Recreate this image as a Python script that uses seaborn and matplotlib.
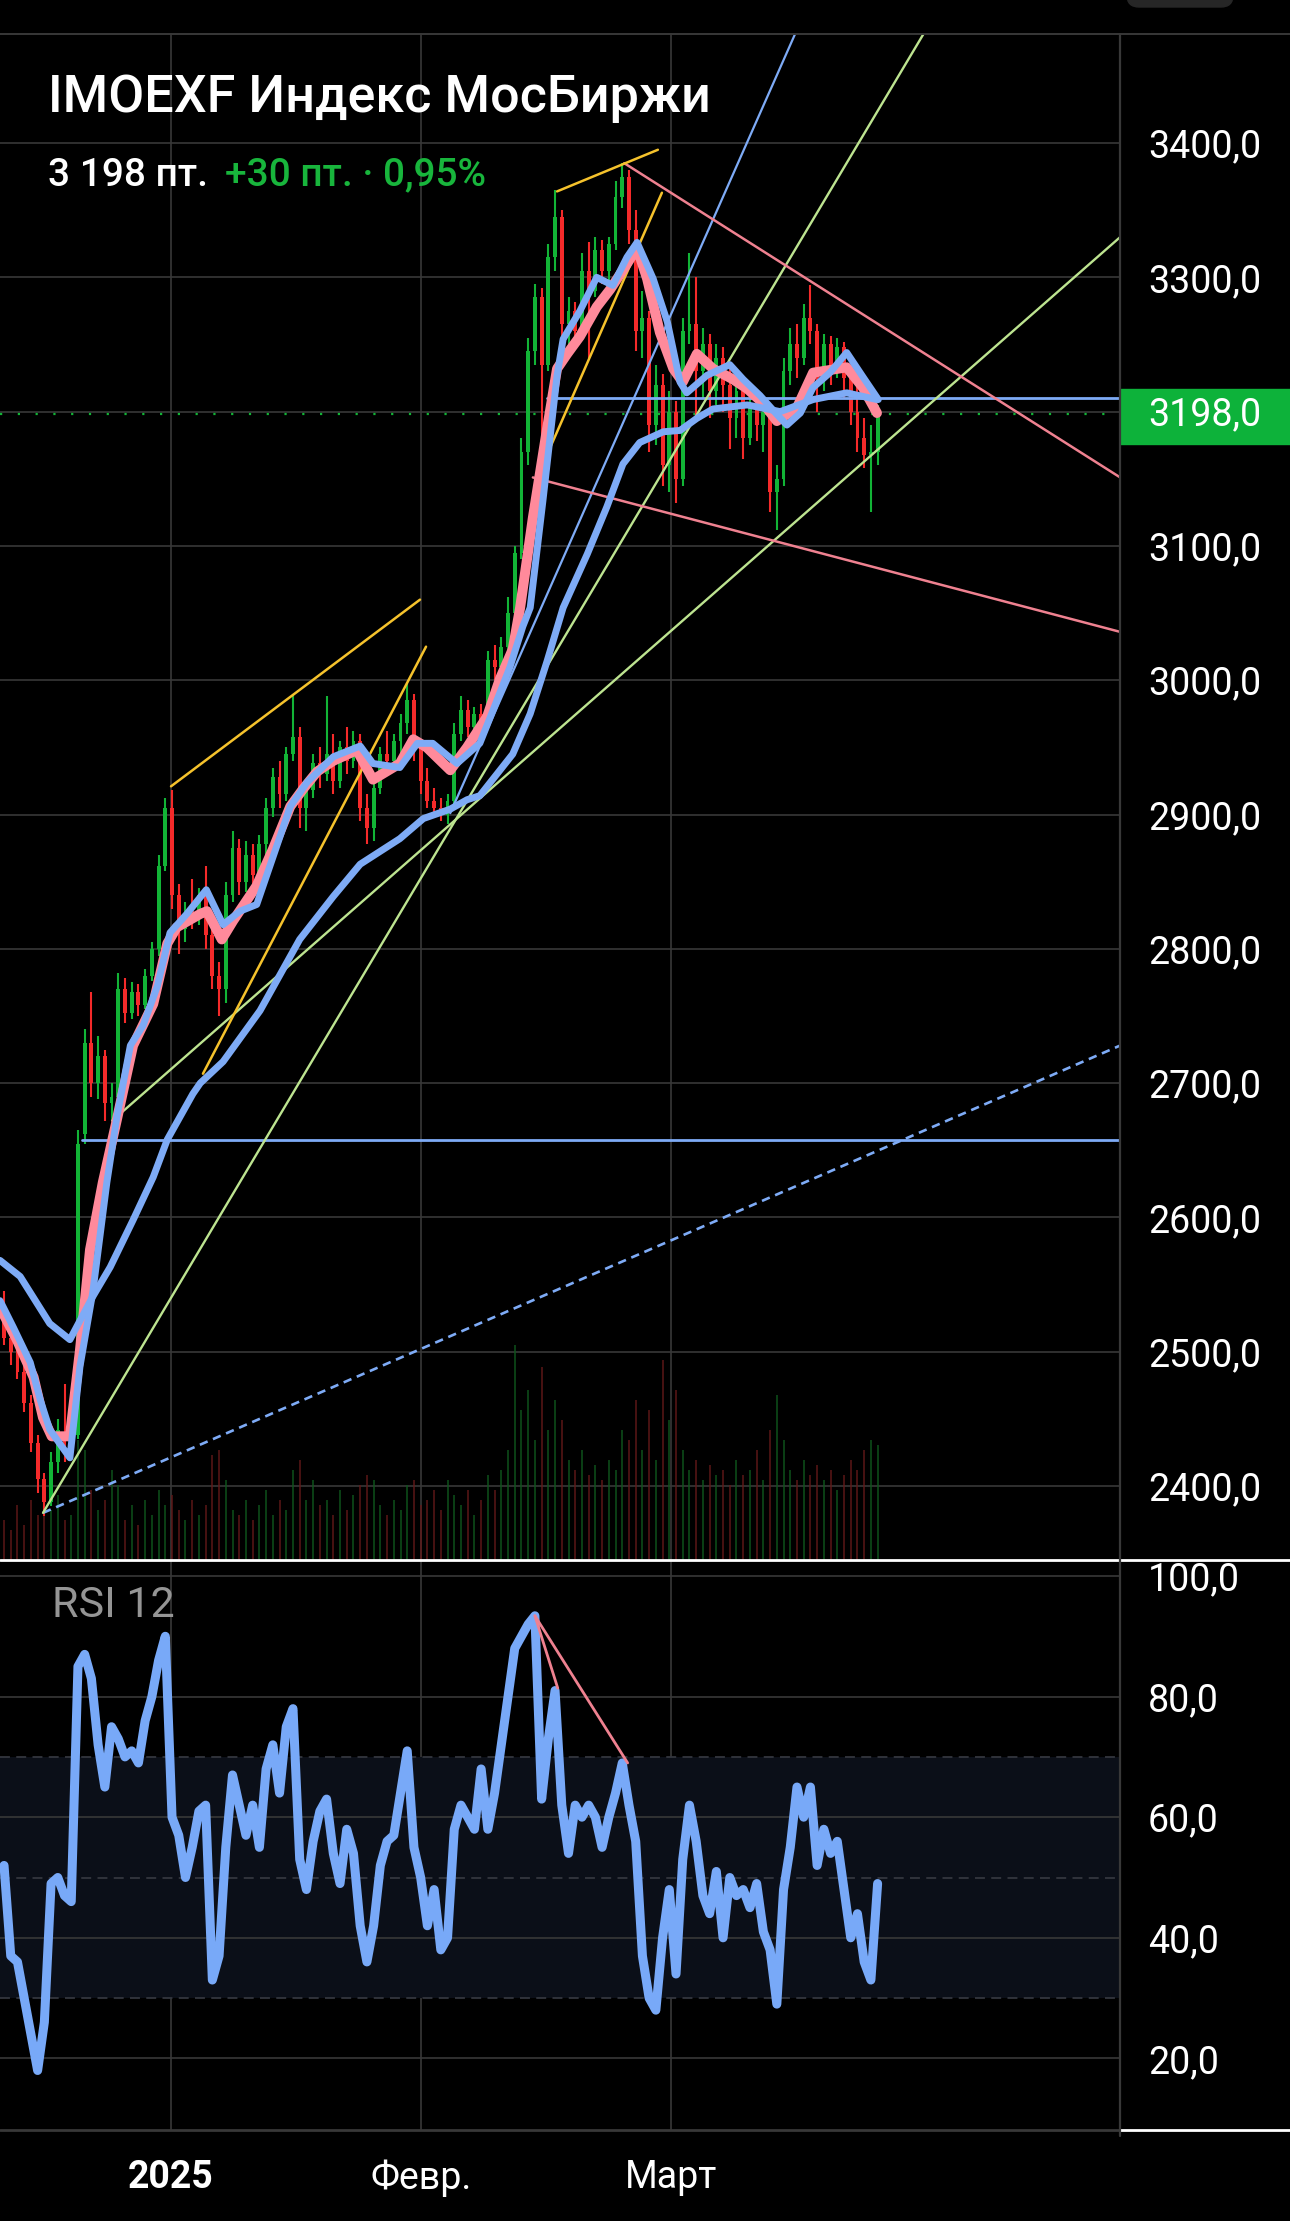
"""
IMOEXF (Индекс МосБиржи) - свечной график с MA, трендовыми линиями и RSI 12.
Тёмная тема, как в мобильном терминале.
"""

import matplotlib
matplotlib.use("Agg")

import matplotlib.pyplot as plt
import numpy as np
import pandas as pd
import seaborn as sns
from matplotlib.lines import Line2D
from matplotlib.patches import FancyBboxPatch, Rectangle
from matplotlib.transforms import blended_transform_factory

# ---------------------------------------------------------------------------
# Данные, индекс бара 0..130
# ---------------------------------------------------------------------------
opens = [2535, 2510, 2500, 2485, 2462, 2432, 2405, 2388, 2418, 2440, 2428, 2438, 2662, 2730,
         2700, 2720, 2685, 2690, 2770, 2752, 2768, 2758, 2780, 2800, 2862, 2905, 2840, 2815,
         2828, 2822, 2840, 2810, 2780, 2770, 2840, 2875, 2850, 2870, 2855, 2878, 2905, 2928,
         2915, 2945, 2958, 2905, 2918, 2938, 2930, 2945, 2925, 2950, 2940, 2955, 2905, 2890,
         2920, 2945, 2940, 2955, 2968, 2985, 2950, 2925, 2910, 2905, 2900, 2910, 2960, 2978,
         2965, 2975, 2968, 3015, 3010, 3025, 3050, 3095, 3170, 3245, 3285, 3235, 3315, 3345,
         3265, 3275, 3260, 3305, 3290, 3320, 3305, 3325, 3360, 3375, 3335, 3260, 3270, 3190,
         3220, 3160, 3200, 3150, 3260, 3265, 3230, 3250, 3215, 3240, 3220, 3195, 3215, 3180,
         3205, 3190, 3200, 3140, 3150, 3230, 3250, 3240, 3270, 3260, 3225, 3250, 3230, 3248,
         3225, 3200, 3180, 3168, 3170]
highs = [2545, 2515, 2505, 2490, 2468, 2438, 2410, 2425, 2450, 2476, 2445, 2665, 2740, 2768,
         2735, 2725, 2700, 2782, 2778, 2775, 2774, 2785, 2805, 2870, 2912, 2918, 2848, 2835,
         2852, 2845, 2862, 2815, 2790, 2850, 2888, 2882, 2880, 2878, 2885, 2912, 2935, 2940,
         2950, 2990, 2965, 2925, 2945, 2950, 2988, 2960, 2955, 2965, 2962, 2960, 2915, 2925,
         2950, 2962, 2960, 2975, 2998, 2990, 2955, 2935, 2920, 2912, 2915, 2968, 2988, 2985,
         2980, 2982, 3022, 3026, 3032, 3062, 3100, 3180, 3255, 3295, 3292, 3325, 3365, 3350,
         3285, 3282, 3318, 3326, 3330, 3328, 3330, 3372, 3385, 3380, 3350, 3290, 3275, 3235,
         3228, 3215, 3208, 3270, 3318, 3300, 3262, 3258, 3250, 3248, 3232, 3225, 3220, 3215,
         3212, 3210, 3205, 3160, 3240, 3262, 3265, 3280, 3294, 3265, 3258, 3256, 3255, 3252,
         3235, 3218, 3195, 3190, 3205]
lows = [2505, 2490, 2480, 2455, 2425, 2395, 2378, 2385, 2410, 2418, 2420, 2435, 2655, 2690,
        2688, 2672, 2672, 2688, 2745, 2748, 2750, 2755, 2776, 2795, 2858, 2830, 2796, 2805,
        2815, 2818, 2800, 2770, 2750, 2760, 2835, 2840, 2842, 2845, 2850, 2870, 2898, 2905,
        2910, 2940, 2890, 2888, 2912, 2920, 2925, 2915, 2920, 2930, 2935, 2895, 2878, 2880,
        2915, 2935, 2932, 2945, 2960, 2940, 2915, 2905, 2900, 2895, 2893, 2905, 2955, 2958,
        2955, 2960, 2965, 3000, 2998, 3020, 3045, 3090, 3160, 3235, 3152, 3230, 3305, 3250,
        3245, 3248, 3255, 3240, 3285, 3295, 3298, 3320, 3352, 3325, 3245, 3240, 3170, 3175,
        3145, 3140, 3132, 3145, 3250, 3195, 3210, 3195, 3205, 3200, 3172, 3180, 3165, 3175,
        3178, 3170, 3125, 3112, 3145, 3220, 3225, 3235, 3250, 3200, 3215, 3220, 3225, 3210,
        3190, 3170, 3158, 3125, 3160]
closes = [2510, 2500, 2485, 2462, 2432, 2405, 2388, 2418, 2442, 2428, 2438, 2655, 2730, 2700,
          2720, 2685, 2690, 2770, 2752, 2768, 2758, 2780, 2800, 2862, 2905, 2840, 2815, 2828,
          2822, 2840, 2810, 2780, 2770, 2840, 2875, 2850, 2870, 2855, 2878, 2905, 2928, 2915,
          2945, 2958, 2905, 2918, 2938, 2930, 2945, 2925, 2950, 2940, 2955, 2905, 2890, 2920,
          2945, 2940, 2955, 2968, 2985, 2950, 2925, 2910, 2905, 2900, 2910, 2960, 2978, 2965,
          2975, 2968, 3015, 3010, 3025, 3050, 3095, 3170, 3245, 3285, 3235, 3315, 3345, 3265,
          3275, 3260, 3305, 3290, 3320, 3305, 3325, 3360, 3375, 3335, 3260, 3270, 3190, 3220,
          3160, 3200, 3150, 3260, 3265, 3230, 3250, 3215, 3240, 3220, 3195, 3215, 3180, 3205,
          3190, 3200, 3140, 3150, 3230, 3250, 3240, 3270, 3260, 3225, 3250, 3230, 3248, 3225,
          3200, 3180, 3168, 3170, 3198]
volumes = [40, 30, 55, 35, 60, 45, 70, 50, 65, 40, 45, 120, 110, 70, 50, 60, 90, 75,
           40, 55, 35, 60, 45, 70, 55, 65, 50, 40, 60, 45, 55, 105, 110, 80,
           50, 45, 60, 40, 55, 70, 45, 60, 50, 90, 100, 60, 80, 55, 60, 45, 70, 50, 65,
           75, 85, 80, 55, 45, 60, 50, 75, 80, 55, 60, 70, 50, 80, 65, 55, 70, 45, 60,
           85, 70, 90, 110, 215, 150, 170, 120, 193, 130, 160, 140, 100, 90, 110, 85, 95,
           80, 100, 90, 130, 120, 160, 110, 150, 100, 200, 140, 170, 110, 90, 100, 80, 95,
           85, 90, 75, 100, 85, 90, 110, 80, 130, 165, 120, 90, 80, 100, 85, 95, 80, 90,
           70, 85, 100, 90, 110, 120, 115]
rsi = [52, 37, 36, 30, 24, 18, 26, 49, 50, 47, 46, 85, 87, 83, 72, 65, 75, 73, 70, 71, 69,
       76, 80, 86, 90, 60, 57, 50, 55, 61, 62, 33, 37, 55, 67, 62, 57, 62, 55, 68, 72,
       64, 75, 78, 53, 48, 56, 61, 63, 54, 49, 58, 54, 42, 36, 42, 52, 56, 57, 64, 71,
       55, 50, 42, 48, 38, 40, 58, 62, 60, 58, 68, 58, 64, 72, 80, 88, 90, 92, 93.4, 63,
       73, 81, 62, 54, 62, 60, 62, 60, 55, 60, 64, 69, 62, 56, 37, 30, 28, 40, 48, 34,
       53, 62, 56, 47, 44, 51, 40, 50, 47, 48, 45, 49, 41, 38, 29, 48, 55, 65, 60, 65,
       52, 58, 54, 56, 48, 40, 44, 36, 33, 49]

ma_fast_x = [-0.6, 1.9, 4.4, 5.8, 7.1, 9.8, 11.3, 12.8, 14.7, 16.8, 19.2, 22.2, 24.3, 25.7, 29.2,
             30.2, 32.4, 34.1, 37.6, 40.0, 42.6, 44.5, 46.6, 49.0, 52.5, 54.9, 58.9, 60.9, 62.9,
             66.4, 68.9, 71.9, 73.8, 75.7, 76.8, 78.7, 80.8, 82.3, 83.8, 85.7, 88.2, 90.2, 92.7,
             94.2, 95.7, 97.6, 99.6, 101.0, 103.1, 105.5, 108.5, 110.6, 113.0, 115.0, 118.0,
             120.4, 122.9, 125.4, 127.8, 129.9]
ma_fast_y = [2533, 2509, 2481, 2451, 2437, 2437, 2501, 2576, 2626, 2673, 2728, 2759, 2804, 2816,
             2826, 2828, 2807, 2821, 2847, 2874, 2906, 2919, 2932, 2940, 2948, 2926, 2938, 2956,
             2950, 2933, 2950, 2973, 3001, 3023, 3054, 3121, 3187, 3232, 3243, 3256, 3278, 3291,
             3310, 3322, 3299, 3259, 3232, 3222, 3243, 3232, 3224, 3217, 3206, 3193, 3203, 3229,
             3231, 3233, 3218, 3199]
ma_mid_x = [-0.6, 1.4, 3.9, 5.4, 6.8, 9.8, 11.3, 13.2, 15.3, 16.8, 18.8, 20.7, 22.8, 24.7, 27.2,
            30.1, 32.6, 35.1, 37.6, 40.0, 42.6, 45.1, 49.0, 53.0, 54.9, 58.9, 61.5, 63.8, 67.4,
            70.8, 72.8, 75.3, 77.2, 78.3, 80.2, 82.3, 83.2, 85.7, 88.2, 90.6, 92.7, 94.2, 96.6,
            98.7, 100.6, 101.6, 104.6, 108.0, 110.0, 112.5, 115.0, 116.5, 118.5, 120.4, 122.9,
            125.4, 127.8, 130.1]
ma_mid_y = [2538, 2518, 2492, 2464, 2442, 2421, 2489, 2544, 2626, 2675, 2728, 2743, 2772, 2812,
            2826, 2844, 2818, 2828, 2833, 2868, 2906, 2924, 2943, 2951, 2938, 2935, 2953, 2953,
            2938, 2953, 2978, 3010, 3040, 3054, 3134, 3227, 3254, 3275, 3300, 3294, 3315, 3326,
            3299, 3267, 3222, 3214, 3227, 3235, 3224, 3212, 3198, 3190, 3199, 3218, 3229, 3244,
            3226, 3209]
ma_slow_x = [-0.6, 2.4, 6.8, 9.8, 13.2, 15.8, 19.2, 22.2, 24.3, 28.1, 29.2, 32.6, 38.1, 44.0,
             49.0, 53.0, 58.9, 62.4, 66.4, 68.9, 70.8, 75.7, 78.3, 80.8, 83.2, 86.8, 89.7, 92.1,
             94.6, 98.1, 100.6, 103.1, 105.5, 110.6, 115.5, 120.4, 125.4, 129.9]
ma_slow_y = [2568, 2556, 2521, 2509, 2541, 2563, 2598, 2630, 2658, 2692, 2700, 2716, 2754, 2807,
             2839, 2863, 2882, 2897, 2904, 2911, 2914, 2945, 2975, 3014, 3054, 3094, 3129, 3161,
             3177, 3185, 3186, 3195, 3202, 3205, 3200, 3209, 3214, 3209]

# трендовые линии: (бар, цена) -> (бар, цена)
yellow_lines = [((24.85, 2921), (61.9, 3060)),
                ((29.6, 2707), (62.8, 3025)),
                ((82.3, 3364), (97.3, 3395)),
                ((79.5, 3153), (97.9, 3363))]
lime_lines = [((16.1, 2672), (166.1, 3330)),
              ((5.8, 2380), (136.8, 3481))]
pink_lines = [((92.3, 3385), (166.1, 3151)),
              ((78.7, 3151), (166.1, 3036))]
blue_steep = ((66.4, 2901), (117.7, 3481))
blue_dashed = ((5.8, 2380), (166.1, 2728))
blue_levels = [(80.8, 3210), (11.6, 2658)]
rsi_div_lines = [((79.0, 93.4), (82.4, 81.4)), ((79.0, 93.4), (92.8, 69.0))]

last_price = 3198
price_grid = [2400, 2500, 2600, 2700, 2800, 2900, 3000, 3100, 3200, 3300, 3400]
price_ticks = [2400, 2500, 2600, 2700, 2800, 2900, 3000, 3100, 3300, 3400]
rsi_ticks = [20, 40, 60, 80, 100]
rsi_band = [30, 50, 70]
month_pos = [24.85, 62.05, 99.26]
month_labels = ["2025", "Февр.", "Март"]

# ---------------------------------------------------------------------------
# Стиль
# ---------------------------------------------------------------------------
BG = "#000000"
GRID = "#383838"
GREEN = "#12b436"
RED = "#f52a2a"
PINK = "#ff8a9b"
BLUE = "#7eabf6"
YELLOW = "#f5c22c"
LIME = "#bde490"
PINK_LINE = "#ef8190"

sns.set_theme(style="dark", rc={"axes.facecolor": BG, "figure.facecolor": BG})
plt.rcParams["font.family"] = ["Roboto", "DejaVu Sans"]

W, H = 1290, 2221
X_MIN, X_MAX = -0.6, 166.07
P_MIN, P_MAX = 2344.9, 3481.2
R_MIN, R_MAX = 8.13, 102.65


def rect(x0, y0, x1, y1):
    """Пиксельный прямоугольник (сверху вниз) -> координаты фигуры."""
    return [x0 / W, 1 - y1 / H, (x1 - x0) / W, (y1 - y0) / H]


def fig_line(fig, x0, y0, x1, y1, color, lw):
    fig.add_artist(Line2D([x0 / W, x1 / W], [1 - y0 / H, 1 - y1 / H],
                          color=color, linewidth=lw, transform=fig.transFigure))


def seg(ax, s, color, lw, **kw):
    (x0, y0), (x1, y1) = s
    ax.plot([x0, x1], [y0, y1], color=color, linewidth=lw, **kw)


def thick_line(ax, x, y, color, lw, zorder):
    """Линия через seaborn, толщина задаётся явно на самой Line2D."""
    n = len(ax.lines)
    sns.lineplot(x=x, y=y, ax=ax, color=color, sort=False, zorder=zorder)
    for ln in ax.lines[n:]:
        ln.set_linewidth(lw)
        ln.set_solid_capstyle("round")
        ln.set_solid_joinstyle("round")


fig = plt.figure(figsize=(W / 100, H / 100), dpi=100)
fig.patch.set_facecolor(BG)

ax = fig.add_axes(rect(0, 34, 1120, 1560))
ax_rsi = fig.add_axes(rect(0, 1560, 1120, 2130))

for a in (ax, ax_rsi):
    a.set_facecolor(BG)
    a.grid(False)
    for s in a.spines.values():
        s.set_visible(False)

# ---------------------------------------------------------------------------
# Ценовая панель
# ---------------------------------------------------------------------------
df = pd.DataFrame({"o": opens, "h": highs, "l": lows, "c": closes, "v": volumes})
df["i"] = np.arange(len(df))
colors = np.where(df["c"] >= df["o"], GREEN, RED)

for p in price_grid:
    ax.axhline(p, color=GRID, linewidth=1.2, zorder=0)
for m in month_pos:
    ax.axvline(m, color=GRID, linewidth=1.2, zorder=0)
    ax_rsi.axvline(m, color=GRID, linewidth=1.2, zorder=0)

# объёмы - тонкие тусклые столбики снизу (1 ед. = 1 px высоты)
vol_colors = np.where(df["c"] >= df["o"], "#0e561c", "#621818")
ax.vlines(df["i"], 0, df["v"] / 1526.0, colors=vol_colors, linewidth=1.3, alpha=0.8,
          transform=blended_transform_factory(ax.transData, ax.transAxes), zorder=1)

# свечи
ax.vlines(df["i"], df["l"], df["h"], colors=colors, linewidth=1.5, zorder=3)
body = (df["c"] - df["o"]).abs().clip(lower=1.5)
ax.bar(df["i"], body, bottom=np.minimum(df["o"], df["c"]), width=0.58,
       color=colors, linewidth=0, zorder=3)

# уровни и трендовые
ax.axhline(last_price, color=GREEN, linewidth=1.6, ls=(0, (1, 7)), zorder=2)
for x0, lvl in blue_levels:
    ax.plot([x0, X_MAX + 5], [lvl, lvl], color=BLUE, linewidth=2.0, zorder=4)
seg(ax, blue_dashed, BLUE, 1.9, ls=(0, (3.2, 2.2)), zorder=4)
seg(ax, blue_steep, BLUE, 1.6, zorder=4)
for s in lime_lines:
    seg(ax, s, LIME, 1.7, zorder=4)
for s in pink_lines:
    seg(ax, s, PINK_LINE, 1.8, zorder=4)
for s in yellow_lines:
    seg(ax, s, YELLOW, 1.8, zorder=4)

# скользящие средние
thick_line(ax, ma_fast_x, ma_fast_y, PINK, 7.2, 5)
thick_line(ax, ma_mid_x, ma_mid_y, BLUE, 5.0, 6)
thick_line(ax, ma_slow_x, ma_slow_y, BLUE, 5.0, 6)

ax.set_xlim(X_MIN, X_MAX)
ax.set_ylim(P_MIN, P_MAX)
ax.set_xlabel("")
ax.set_ylabel("")
ax.yaxis.tick_right()
ax.set_yticks(price_ticks)
ax.set_yticklabels([f"{p},0" for p in price_ticks])
ax.tick_params(axis="y", length=0, pad=20, labelsize=27, labelcolor="white")
ax.tick_params(axis="x", bottom=False, labelbottom=False)

# плашка текущей цены
trans = blended_transform_factory(ax.transAxes, ax.transData)
ax.add_patch(Rectangle((1.0, last_price - 22), 170 / 1120, 41, transform=trans,
                       color="#0db23a", clip_on=False, zorder=10))
ax.text(1148 / 1120, last_price, f"{last_price},0", transform=trans, color="white",
        fontsize=27, va="center", ha="left", zorder=11)

# ---------------------------------------------------------------------------
# Панель RSI
# ---------------------------------------------------------------------------
ax_rsi.axhspan(rsi_band[0], rsi_band[-1], color="#0b0f18", linewidth=0, zorder=0)
for r in rsi_ticks:
    ax_rsi.axhline(r, color=GRID, linewidth=1.2, zorder=1)
for r in rsi_band:
    ax_rsi.axhline(r, color="#33363e", linewidth=1.3, ls=(0, (5.5, 3.5)), zorder=1)

thick_line(ax_rsi, df["i"], rsi, "#78a9f8", 6.5, 3)
for s in rsi_div_lines:
    seg(ax_rsi, s, PINK_LINE, 2.0, zorder=4)

ax_rsi.text(52 / 1120, 0.92, "RSI 12", transform=ax_rsi.transAxes, color="#959595",
            fontsize=31, va="center", ha="left")

ax_rsi.set_xlim(X_MIN, X_MAX)
ax_rsi.set_ylim(R_MIN, R_MAX)
ax_rsi.set_xlabel("")
ax_rsi.set_ylabel("")
ax_rsi.yaxis.tick_right()
ax_rsi.set_yticks(rsi_ticks)
ax_rsi.set_yticklabels([f"{r},0" for r in rsi_ticks])
ax_rsi.tick_params(axis="y", length=0, pad=20, labelsize=27, labelcolor="white")
ax_rsi.set_xticks(month_pos)
ax_rsi.set_xticklabels(month_labels)
ax_rsi.tick_params(axis="x", length=7, width=1.2, color=GRID, pad=14,
                   labelsize=27, labelcolor="white")
ax_rsi.get_xticklabels()[0].set_fontweight("bold")

# ---------------------------------------------------------------------------
# Рамки, заголовок
# ---------------------------------------------------------------------------
fig_line(fig, 0, 34, W, 34, GRID, 1.4)
fig_line(fig, 0, 1560, W, 1560, "white", 2.0)
fig_line(fig, 0, 2130, 1120, 2130, GRID, 2.0)
fig_line(fig, 1120, 2130, W, 2130, "white", 2.0)
fig_line(fig, 1120, 34, 1120, 2136, GRID, 1.6)

fig.add_artist(FancyBboxPatch((11.27, 22.14), 1.06, 0.4,
                              boxstyle="round,pad=0,rounding_size=0.12",
                              transform=fig.dpi_scale_trans, color="#262626"))

fig.text(48 / W, 1 - 98 / H, "IMOEXF Индекс МосБиржи", color="white",
         fontsize=37.5, fontweight="medium", va="center", ha="left")
fig.text(48 / W, 1 - 175 / H, "3 198 пт.", color="white",
         fontsize=28, fontweight="medium", va="center", ha="left")
fig.text(225 / W, 1 - 175 / H, "+30 пт. · 0,95%", color="#18b53c",
         fontsize=28, fontweight="medium", va="center", ha="left")

fig.savefig("out.png", dpi=100, facecolor=BG)
